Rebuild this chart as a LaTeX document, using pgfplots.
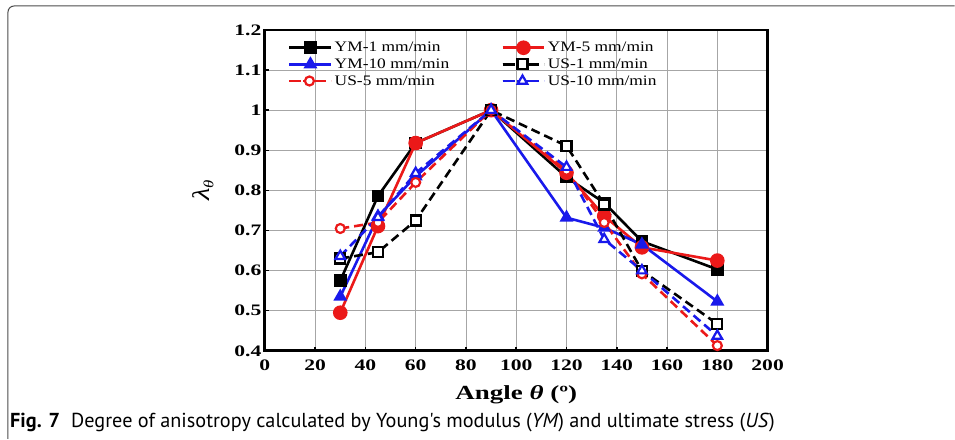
\documentclass[border=0pt]{standalone}
\usepackage{fontspec}
\setmainfont{Liberation Serif}
\newfontfamily\tickfont[FakeStretch=1.35]{Liberation Serif}
\newfontfamily\legfont[FakeStretch=1.2]{Liberation Serif}
\newfontfamily\capfont{PT Sans}
\usepackage{pgfplots}
\usepackage{pgfplotstable}
\pgfplotsset{compat=1.18}

\definecolor{myred}{RGB}{235,25,25}
\definecolor{myblue}{RGB}{25,25,235}

\pgfplotsset{
  solidleg/.style={legend image code/.code={\draw[mark repeat=2,mark phase=2,##1] plot coordinates {(0pt,0pt) (21pt,0pt) (42pt,0pt)};}},
  dashleg/.style={legend image code/.code={\path (0pt,0pt) -- (42pt,0pt); \draw[##1,solid] (0pt,0pt)--(12pt,0pt) (24pt,0pt)--(30pt,0pt); \draw[##1] plot coordinates {(20pt,0pt)};}},
}

\pgfplotstableread{
x   ym1   ym5   ym10  us1   us5   us10
30  0.575 0.495 0.535 0.630 0.705 0.636
45  0.786 0.711 0.735 0.646 0.720 0.733
60  0.918 0.918 0.835 0.725 0.820 0.843
90  1.000 1.000 1.000 1.000 1.000 1.000
120 0.833 0.844 0.732 0.911 0.850 0.858
135 0.769 0.736 0.707 0.765 0.720 0.678
150 0.673 0.658 0.665 0.600 0.592 0.600
180 0.603 0.625 0.523 0.467 0.413 0.437
}\data

\begin{document}
\begin{tikzpicture}
\path (0pt,0pt) rectangle (955pt,439pt);
\draw[line width=1pt, black!70] (8pt,0pt) -- (8pt,427pt) arc[start angle=180,end angle=90,radius=6pt] -- (955pt,433pt);
\node[anchor=base west, inner sep=0pt] at (10pt,11pt)
  {\resizebox{765pt}{!}{\capfont\fontsize{18}{20}\selectfont\textbf{Fig. 7}\hspace{0.55em}Degree of anisotropy calculated by Young's modulus (\textit{YM}) and ultimate stress (\textit{US})}};
\begin{axis}[
  at={(265pt,88pt)}, anchor=south west,
  scale only axis, width=503pt, height=321pt,
  xmin=0, xmax=200, ymin=0.4, ymax=1.2,
  xtick={0,20,40,60,80,100,120,140,160,180,200},
  xticklabels={0,20,40,60,80,100,120,140,160,180,200},
  ytick={0.4,0.5,0.6,0.7,0.8,0.9,1,1.1,1.2},
  yticklabels={0.4,0.5,0.6,0.7,0.8,0.9,1,1.1,1.2},
  ticklabel style={font=\tickfont\bfseries\fontsize{16}{16}\selectfont},
  xticklabel style={yshift=-6pt},
  tick align=inside, tick pos=left, major tick length=4pt,
  tick style={black, line width=1.5pt},
  axis line style={line width=2.8pt},
  grid=major, major grid style={black!35, line width=0.9pt},
  xlabel={\textbf{Angle \textit{θ} (º)}},
  xlabel style={font=\tickfont\fontsize{20}{20}\selectfont, yshift=-8pt},
  ylabel={\textit{λ}\raisebox{-0.35ex}{\fontsize{14}{14}\selectfont\textit{θ}}},
  ylabel style={font=\legfont\fontsize{24}{24}\selectfont, yshift=14pt},
  legend columns=2,
  legend cell align=left,
  legend style={at={(0.04,0.975)}, anchor=north west, draw=none, fill=none,
    font=\legfont\fontsize{14.5}{15.5}\selectfont, row sep=1.5pt,
    /tikz/every even column/.append style={column sep=50pt}},
]
\addplot[black, line width=2.6pt, mark=square*, mark size=5pt, solidleg]
  table[x=x,y=ym1]{\data};
\addlegendentry{YM-1 mm/min}
\addplot[myred, line width=2.6pt, mark=*, mark size=6pt, solidleg]
  table[x=x,y=ym5]{\data};
\addlegendentry{YM-5 mm/min}
\addplot[myblue, line width=2.6pt, mark=triangle*, mark size=5.5pt, solidleg]
  table[x=x,y=ym10]{\data};
\addlegendentry{YM-10 mm/min}
\addplot[black, line width=2.6pt, dash pattern=on 9pt off 5pt, mark=square*, mark size=5pt, mark options={solid, fill=white, line width=2.2pt}, dashleg]
  table[x=x,y=us1]{\data};
\addlegendentry{US-1 mm/min}
\addplot[myred, line width=2.6pt, dash pattern=on 9pt off 5pt, mark=*, mark size=4.5pt, mark options={solid, fill=white, line width=2.2pt}, dashleg]
  table[x=x,y=us5]{\data};
\addlegendentry{US-5 mm/min}
\addplot[myblue, line width=2.6pt, dash pattern=on 9pt off 5pt, mark=triangle*, mark size=5.5pt, mark options={solid, fill=white, line width=2.2pt}, dashleg]
  table[x=x,y=us10]{\data};
\addlegendentry{US-10 mm/min}
\end{axis}
\end{tikzpicture}
\end{document}
